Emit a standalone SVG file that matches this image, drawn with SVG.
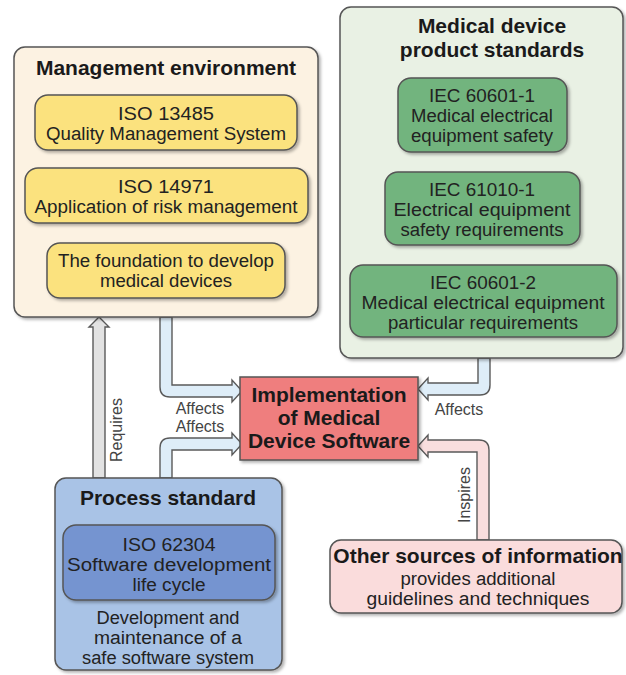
<svg xmlns="http://www.w3.org/2000/svg" width="626" height="675" viewBox="0 0 626 675">
<defs>
<filter id="sh" x="-5%" y="-5%" width="115%" height="115%">
<feDropShadow dx="2" dy="2" stdDeviation="1.5" flood-color="#000" flood-opacity="0.3"/>
</filter>
</defs>
<style>
text{font-family:"Liberation Sans",Arial,sans-serif;fill:#222;text-anchor:middle}
.t{font-weight:bold;font-size:21px;fill:#1a1a1a}
.n{font-size:18px}
.s{font-size:16px;fill:#444}
.box{stroke:#555;stroke-width:1.5;filter:url(#sh)}
.arr{stroke:#5a5a5a;stroke-width:1.4;stroke-linejoin:miter}
</style>
<rect width="626" height="675" fill="#fff"/>
<g id="connectors">
<path class="arr" fill="#e2e2e2" d="M93,478 L93,327 L89,327 L99,317 L109,327 L105,327 L105,478 Z"/>
<path class="arr" fill="#deedf8" d="M160,317 L160,387 Q160,397 170,397 L232,397 L232,402 L242,391 L232,380 L232,385 L172,385 L172,317 Z"/>
<path class="arr" fill="#deedf8" d="M160,478 L160,448 Q160,438 170,438 L232,438 L232,433 L242,444 L232,455 L232,450 L172,450 L172,478 Z"/>
<path class="arr" fill="#deedf8" d="M490,358 L490,385 Q490,395 480,395 L428,395 L428,400 L418,389 L428,378 L428,383 L478,383 L478,358 Z"/>
<path class="arr" fill="#f9dede" d="M489,540 L489,450 Q489,440 479,440 L428,440 L428,435 L418,446 L428,457 L428,452 L477,452 L477,540 Z"/>
<text class="s" transform="translate(122,430) rotate(-90)">Requires</text>
<text class="s" x="200" y="414">Affects</text>
<text class="s" x="200" y="432">Affects</text>
<text class="s" x="459" y="415">Affects</text>
<text class="s" transform="translate(470,495) rotate(-90)">Inspires</text>
</g>
<g id="management">
<rect class="box" x="14" y="47" width="304" height="270" rx="11" fill="#fcf2e2"/>
<text class="t" x="166" y="75">Management environment</text>
</g>
<g id="iso13485">
<rect class="box" x="35" y="95" width="262" height="55" rx="13" fill="#fbe27e"/>
<text class="n" x="166" y="120" textLength="96" lengthAdjust="spacingAndGlyphs">ISO 13485</text>
<text class="n" x="166" y="140" textLength="240" lengthAdjust="spacingAndGlyphs">Quality Management System</text>
</g>
<g id="iso14971">
<rect class="box" x="25" y="168" width="283" height="55" rx="13" fill="#fbe27e"/>
<text class="n" x="166" y="193" textLength="96" lengthAdjust="spacingAndGlyphs">ISO 14971</text>
<text class="n" x="166" y="213" textLength="263" lengthAdjust="spacingAndGlyphs">Application of risk management</text>
</g>
<g id="foundation">
<rect class="box" x="47" y="243" width="238" height="55" rx="13" fill="#fbe27e"/>
<text class="n" x="166" y="267" textLength="216" lengthAdjust="spacingAndGlyphs">The foundation to develop</text>
<text class="n" x="166" y="287" textLength="132" lengthAdjust="spacingAndGlyphs">medical devices</text>
</g>
<g id="product-standards">
<rect class="box" x="340" y="7" width="283" height="351" rx="11" fill="#e9f1e4"/>
<text class="t" x="492" y="33">Medical device</text>
<text class="t" x="492" y="57">product standards</text>
</g>
<g id="iec60601-1">
<rect class="box" x="398" y="78" width="169" height="74" rx="13" fill="#72b47e"/>
<text class="n" x="482" y="102" textLength="106" lengthAdjust="spacingAndGlyphs">IEC 60601-1</text>
<text class="n" x="482" y="122" textLength="142" lengthAdjust="spacingAndGlyphs">Medical electrical</text>
<text class="n" x="482" y="142" textLength="142" lengthAdjust="spacingAndGlyphs">equipment safety</text>
</g>
<g id="iec61010-1">
<rect class="box" x="385" y="172" width="195" height="73" rx="13" fill="#72b47e"/>
<text class="n" x="482" y="196" textLength="106" lengthAdjust="spacingAndGlyphs">IEC 61010-1</text>
<text class="n" x="482" y="216" textLength="177" lengthAdjust="spacingAndGlyphs">Electrical equipment</text>
<text class="n" x="482" y="236" textLength="163" lengthAdjust="spacingAndGlyphs">safety requirements</text>
</g>
<g id="iec60601-2">
<rect class="box" x="350" y="265" width="267" height="72" rx="13" fill="#72b47e"/>
<text class="n" x="483" y="289" textLength="106" lengthAdjust="spacingAndGlyphs">IEC 60601-2</text>
<text class="n" x="483" y="309" textLength="243" lengthAdjust="spacingAndGlyphs">Medical electrical equipment</text>
<text class="n" x="483" y="329" textLength="190" lengthAdjust="spacingAndGlyphs">particular requirements</text>
</g>
<g id="implementation">
<rect class="box" x="240" y="377" width="178" height="83" fill="#ef7e7e" stroke="#6a3a3a"/>
<text class="t" font-size="20" x="329" y="402">Implementation</text>
<text class="t" font-size="20" x="329" y="425">of Medical</text>
<text class="t" font-size="20" x="329" y="448">Device Software</text>
</g>
<g id="process">
<rect class="box" x="55" y="478" width="227" height="192" rx="11" fill="#a9c3e6"/>
<text class="t" font-size="20" x="168" y="505">Process standard</text>
<text class="n" x="168" y="624" textLength="143" lengthAdjust="spacingAndGlyphs">Development and</text>
<text class="n" x="168" y="644" textLength="148" lengthAdjust="spacingAndGlyphs">maintenance of a</text>
<text class="n" x="168" y="664" textLength="172" lengthAdjust="spacingAndGlyphs">safe software system</text>
</g>
<g id="iso62304">
<rect class="box" x="63" y="525" width="212" height="75" rx="13" fill="#7494d0"/>
<text class="n" x="169" y="551" textLength="93" lengthAdjust="spacingAndGlyphs">ISO 62304</text>
<text class="n" x="169" y="571" textLength="204" lengthAdjust="spacingAndGlyphs">Software development</text>
<text class="n" x="169" y="591" textLength="73" lengthAdjust="spacingAndGlyphs">life cycle</text>
</g>
<g id="other-sources">
<rect class="box" x="330" y="540" width="292" height="73" rx="11" fill="#fadcdc"/>
<text class="t" x="478" y="563" font-size="22">Other sources of information</text>
<text class="n" x="478" y="585" textLength="155" lengthAdjust="spacingAndGlyphs">provides additional</text>
<text class="n" x="478" y="605" textLength="223" lengthAdjust="spacingAndGlyphs">guidelines and techniques</text>
</g>
</svg>
